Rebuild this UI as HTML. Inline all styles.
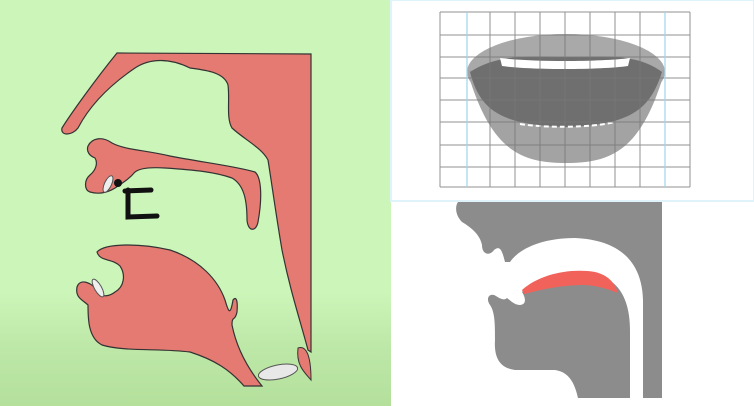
<!DOCTYPE html>
<html><head><meta charset="utf-8"><style>
html,body{margin:0;padding:0;background:#fff}
svg{display:block}
</style></head><body>
<svg width="754" height="406" viewBox="0 0 754 406">
<defs>
<linearGradient id="bg" x1="0" y1="0" x2="0" y2="1">
<stop offset="0" stop-color="#ccf6b9"/><stop offset="0.72" stop-color="#ccf6b9"/><stop offset="0.85" stop-color="#bde8a8"/><stop offset="1" stop-color="#b4e09c"/>
</linearGradient>
</defs>
<g>
<rect x="0" y="0" width="391" height="406" fill="url(#bg)"/>
<path fill="#e57a72" stroke="#333" stroke-width="1.2"
 d="M117,53 L311,54 L311,352 L308,350 C300,320 290,290 282,250 C276,215 272,185 268,160 C262,148 245,140 232,128 C226,118 230,100 228,85 C224,72 205,70 190,68 C170,58 150,58 135,68 C110,85 90,105 78,128 C72,136 60,136 62,128 C70,115 95,80 117,53 Z"/>
<path fill="#e57a72" stroke="#333" stroke-width="1.2"
 d="M88,146 C92,138 102,136 112,143 C125,150 145,150 170,156 C200,162 235,166 255,172 C262,178 262,200 258,222 C256,232 248,232 247,220 C247,200 244,185 232,178 C215,172 195,170 165,168 C150,167 140,168 135,172 C130,178 124,182 118,186 C110,192 100,195 90,192 C84,190 84,180 90,175 C96,170 98,163 95,158 C90,156 86,152 88,146 Z"/>
<ellipse cx="108" cy="184" rx="3.5" ry="9" transform="rotate(25 108 184)" fill="#eee" stroke="#555"/>
<circle cx="118" cy="183" r="4" fill="#111"/>
<path d="M125,191 L151,190 M128,190 L128,217 L157,216" stroke="#111" stroke-width="5" fill="none" stroke-linecap="round"/>
<path fill="#e57a72" stroke="#333" stroke-width="1.2"
 d="M97,252 C105,243 140,243 170,250 C200,260 218,280 225,300 C228,310 230,318 233,300 C236,296 238,300 237,312 C235,322 232,315 232,325 C236,345 245,365 262,386 L244,386 C230,370 215,360 190,352 C160,348 125,352 102,345 C88,338 88,318 88,305 C83,300 75,298 77,287 C80,278 92,282 98,292 C102,298 110,296 115,292 C124,287 126,275 120,266 C112,258 100,262 97,252 Z"/>
<ellipse cx="98" cy="288" rx="3.5" ry="10" transform="rotate(-30 98 288)" fill="#eee" stroke="#555"/>
<ellipse cx="278" cy="372" rx="20" ry="7" transform="rotate(-12 278 372)" fill="#e8e8e8" stroke="#555"/>
<path d="M298,348 C306,345 311,355 311,380 C304,372 296,365 298,348 Z" fill="#e57a72" stroke="#333"/>
</g>
<g>
<rect x="391" y="0" width="363" height="201" fill="#fff" stroke="#dff3fb" stroke-width="2"/>
<ellipse cx="566" cy="72" rx="99" ry="38" fill="#a9a9a9"/>
<path d="M467,70 C490,150 520,163 566,163 C612,163 642,150 665,70 Z" fill="#a3a3a3"/>
<path d="M470,72 C500,52 540,57 566,57 C600,57 635,52 662,72 C650,110 630,125 566,127 C500,125 480,110 470,72 Z" fill="#6f6f6f"/>
<path d="M500,58 C530,62 600,62 630,58 L628,66 C600,70 530,70 502,66 Z" fill="#fff"/>
<path d="M520,124 C545,128 590,128 615,122" stroke="#fff" stroke-width="2" stroke-dasharray="5 3" fill="none"/>
<g stroke="#777" stroke-width="1" opacity="0.8">
<path d="M440,12H690M440,35H690M440,57H690M440,78H690M440,100H690M440,122H690M440,145H690M440,167H690M440,187H690"/>
<path d="M440,12V187M490,12V187M515,12V187M540,12V187M565,12V187M590,12V187M615,12V187M640,12V187M690,12V187"/>
</g>
<path d="M467,12V187M665,12V187" stroke="#9fd4ec" stroke-width="1.2"/>
</g>
<g>
<rect x="391" y="202" width="363" height="204" fill="#fff"/>
<path fill="#8c8c8c"
 d="M458,202 L662,202 L662,398 L643,398 L643,300 C642,262 620,240 575,238 C540,238 518,250 510,262 L505,262 C502,250 500,245 494,250 C490,256 482,255 482,245 C480,235 472,228 462,222 C455,215 455,206 458,202 Z"/>
<path fill="#8c8c8c"
 d="M522,292 C540,272 585,266 612,282 C625,292 630,310 630,330 L630,398 L578,398 C575,385 570,372 555,370 L515,370 C498,368 494,355 495,340 C495,325 495,312 490,305 C485,298 490,292 496,296 C502,300 505,300 507,298 L512,302 C520,308 530,305 522,292 Z"/>
<path fill="#f0625a"
 d="M522,290 C540,274 570,268 595,272 C608,275 615,283 618,293 C610,290 600,286 585,285 C560,285 540,290 524,294 Z"/>
</g>
</svg>
</body></html>
